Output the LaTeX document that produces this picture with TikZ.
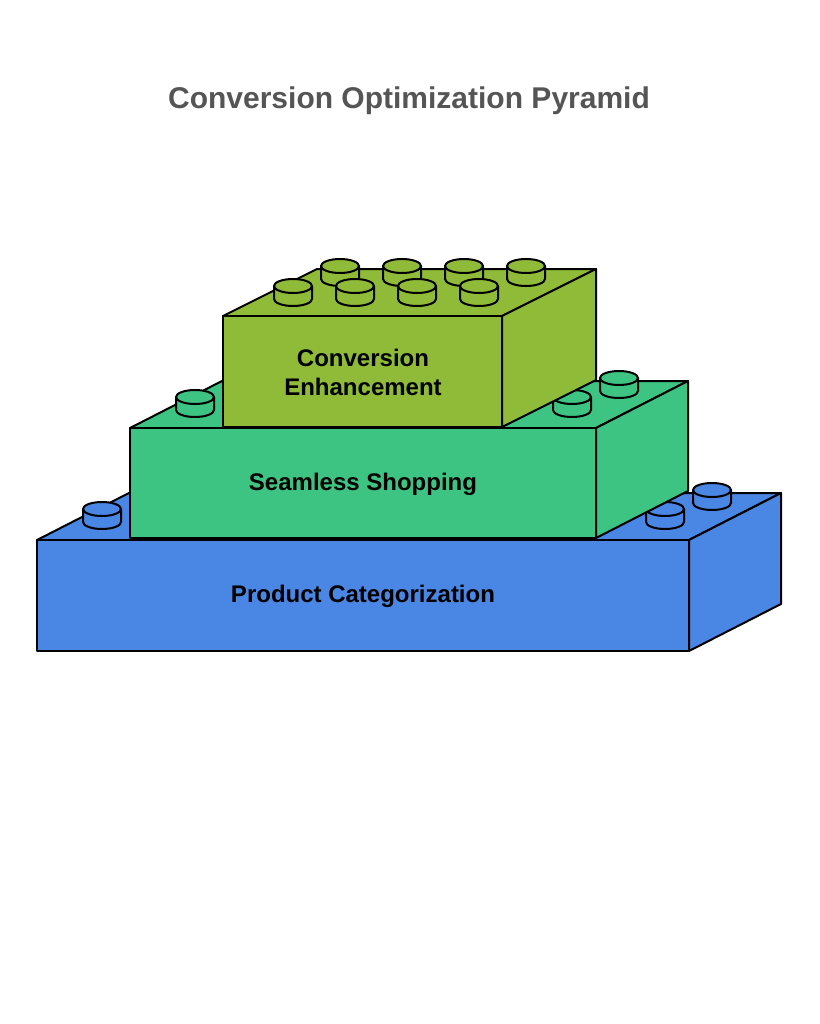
\documentclass[tikz,border=0pt]{standalone}
\usepackage{fontspec}
\setmainfont{Liberation Sans}
\definecolor{blockblue}{HTML}{4A86E4}
\definecolor{blockgreen}{HTML}{3EC482}
\definecolor{blockolive}{HTML}{8FBB38}
\definecolor{titlegray}{HTML}{555555}

% one brick: front x0,x1, top y0, bottom y1, depth offset dx,dy
\newcommand{\brick}[7]{%
  \filldraw[fill=#7] (#1,#3) -- (#1+#5,#3-#6) -- (#2+#5,#3-#6) -- (#2,#3) -- cycle;
  \filldraw[fill=#7] (#2,#3) -- (#2+#5,#3-#6) -- (#2+#5,#4-#6) -- (#2,#4) -- cycle;
  \filldraw[fill=#7] (#1,#3) rectangle (#2,#4);
}
% one stud on a top face
\newcommand{\stud}[3]{%
  \filldraw[fill=#3] (#1-19,#2) -- (#1-19,#2+13) arc[start angle=180, end angle=0, x radius=19, y radius=7] -- (#1+19,#2) -- cycle;
  \filldraw[fill=#3] (#1,#2) ellipse[x radius=19, y radius=7];
}

\begin{document}
\begin{tikzpicture}[x=1pt, y=-1pt, line width=2pt, line join=round,
    label/.style={font=\fontsize{24}{29}\selectfont\bfseries, align=center, text=black}]
    \useasboundingbox (0,0) rectangle (819,1024);

    % Title
    \node[font=\fontsize{30}{36}\selectfont\bfseries, text=titlegray] (title) at (409,101) {Conversion Optimization Pyramid};

    % Bottom brick
    \brick{37}{689}{540}{651}{92}{47}{blockblue}
    \stud{102}{509}{blockblue}
    \stud{712}{490}{blockblue}
    \stud{665}{509}{blockblue}

    % Middle brick
    \brick{130}{596}{428}{538}{92}{47}{blockgreen}
    \stud{195}{397}{blockgreen}
    \stud{619}{378}{blockgreen}
    \stud{572}{397}{blockgreen}

    % Top brick
    \brick{223}{502}{316}{427}{94}{47}{blockolive}
    \foreach \sx in {340,402,464,526} {\stud{\sx}{266}{blockolive}}
    \foreach \sx in {293,355,417,479} {\stud{\sx}{286}{blockolive}}

    % Labels
    \node[label] (base) at (363,596) {Product Categorization};
    \node[label] (middle) at (363,484) {Seamless Shopping};
    \node[label] (top) at (363,372) {Conversion\\Enhancement};
\end{tikzpicture}
\end{document}
